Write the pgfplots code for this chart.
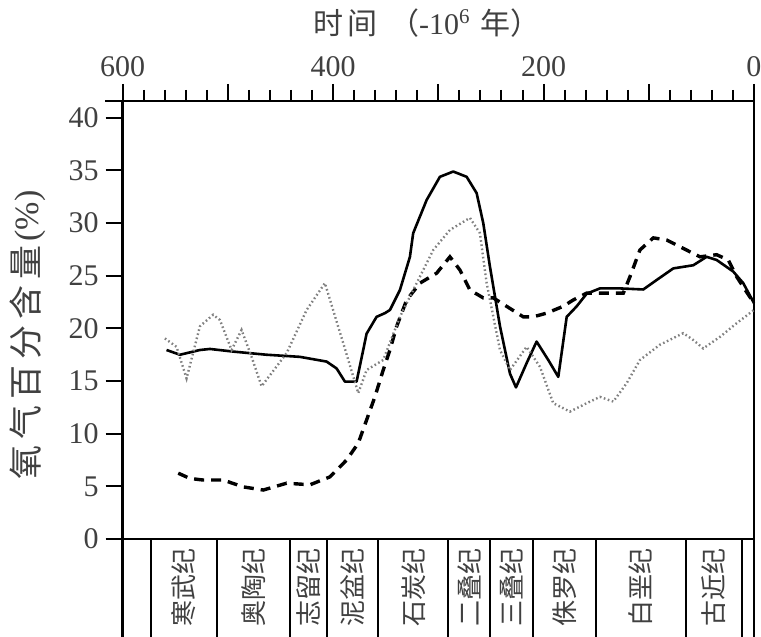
\documentclass[border=0pt]{standalone}
\usepackage{fontspec}
\setmainfont{Liberation Serif}
\newfontfamily\cjk{Noto Sans CJK SC}
\usepackage{pgfplots}
\pgfplotsset{compat=1.18}

% oxygen content (%) against time (Ma)
\pgfplotstableread{
ma val
558.3 17.95
545.6 17.5
526.6 17.95
517.1 18.05
495.0 17.8
463.2 17.5
431.6 17.3
406.2 16.85
396.7 16.2
388.8 14.95
377.7 14.95
371.4 17.95
368.2 19.5
358.7 21.1
350.8 21.45
346.0 21.75
336.5 23.65
327.0 26.8
323.9 29.05
311.1 32.2
298.5 34.4
285.8 34.9
273.1 34.4
263.6 32.85
257.3 30.0
251.0 25.9
241.4 20.2
231.9 15.7
226.2 14.4
216.1 16.7
206.6 18.75
195.5 17.0
186.0 15.4
178.0 21.1
168.5 22.1
159.0 23.3
146.4 23.8
127.4 23.8
105.2 23.7
92.5 24.6
76.7 25.7
57.7 26.0
45.0 26.8
35.5 26.5
19.7 25.4
10.2 24.3
0.0 22.4
}\solid

\pgfplotstableread{
ma val
547.2 6.25
536.1 5.75
523.5 5.6
504.5 5.6
485.5 4.95
466.4 4.65
444.2 5.3
422.0 5.15
403.0 5.9
387.2 7.5
376.1 9.1
368.2 11.3
360.3 13.5
352.4 16.05
346.0 17.95
339.6 20.2
330.1 22.7
317.5 24.3
301.6 25.25
289.0 26.8
279.5 25.55
270.0 23.65
257.3 22.9
247.8 22.9
235.1 22.1
219.3 21.1
209.8 21.1
197.1 21.45
181.3 22.1
171.8 22.7
159.0 23.35
124.2 23.35
117.9 24.9
108.4 27.45
95.7 28.6
83.0 28.4
67.2 27.6
51.3 26.8
35.5 27.0
24.4 26.5
16.4 24.9
8.6 23.7
0.0 22.4
}\dashed

\pgfplotstableread{
ma val
559.9 19.05
548.8 18.25
539.3 15.25
526.6 20.2
514.0 21.3
507.6 20.8
496.5 17.95
487.0 19.85
477.5 17.3
468.0 14.5
444.2 17.65
425.2 21.75
407.8 24.3
390.4 18.6
376.1 13.85
368.2 16.05
352.4 17.0
336.5 21.1
320.6 24.3
304.8 27.45
289.0 29.35
270.0 30.5
260.5 29.05
254.1 24.3
241.4 17.95
231.9 16.05
216.1 18.25
203.4 16.35
190.8 12.9
174.9 12.1
159.0 12.9
146.4 13.5
133.7 13.05
121.0 14.8
108.4 17.0
89.4 18.45
67.2 19.55
57.7 18.9
48.2 18.1
32.3 19.2
16.4 20.5
0.0 21.75
}\dotted

\begin{document}
\begin{tikzpicture}
\begin{axis}[
  scale only axis,
  width=315.65pt, height=219pt,
  xmin=0, xmax=600, x dir=reverse,
  ymin=0, ymax=41.6,
  clip=false,
  axis line style={line width=1.2pt},
  xtick={0,100,...,600},
  xticklabels={0,,200,,400,,600},
  minor x tick num=4,
  xtick pos=upper, xticklabel pos=upper,
  ytick={0,5,...,40}, ytick pos=left,
  tick align=outside,
  major tick length=8.5pt, minor tick length=5.5pt,
  tick style={line width=1pt, black},
  ticklabel style={font=\fontsize{15}{15}\selectfont, text=black!75},
  /pgf/number format/assume math mode=true,
  title={{\cjk 时\kern2pt 间}\hspace{6pt}{\cjk （}-10\textsuperscript{6}\hspace{5pt}{\cjk 年）}},
  title style={at={(rel axis cs:0.482,1.1735)}, anchor=center, yshift=-5pt,
    font=\fontsize{15}{15}\selectfont, text=black!75},
  ylabel={{\cjk 氧\kern3pt 气\kern3pt 百\kern3pt 分\kern3pt 含\kern3pt 量}\kern2pt(\%)},
  ylabel style={at={(rel axis cs:-0.15,0.466)}, anchor=center, rotate=0,
    font=\fontsize{17}{17}\selectfont, text=black!75},
]
\addplot[black, line width=1.3pt, line join=round] table[x=ma, y=val] {\solid};
\addplot[black, line width=1.7pt, dash pattern=on 5pt off 3.5pt] table[x=ma, y=val] {\dashed};
\addplot[black!50, line width=1.2pt, dash pattern=on 0.8pt off 1.3pt] table[x=ma, y=val] {\dotted};

% frame extension and period table below the axis
\draw[line width=1.2pt] (rel axis cs:0,1) -- ++(-9pt,0);
\draw[line width=1.2pt] (axis cs:600,0) -- (axis cs:600,-10);
\draw[line width=1.2pt] (axis cs:0,0) -- (axis cs:0,-10);
\pgfplotsinvokeforeach{573.5,510.7,441,406.2,357.1,290.6,251,209.8,150.2,64.6,11.7}{
  \draw[line width=1pt] (axis cs:#1,0) -- (axis cs:#1,-10);
}
\begin{scope}[every node/.style={rotate=90, font=\cjk\fontsize{13}{13}\selectfont, text=black!75}]
\node at (axis cs:542.1,-4.56) {寒武纪};
\node at (axis cs:475.9,-4.56) {奥陶纪};
\node at (axis cs:423.6,-4.56) {志留纪};
\node at (axis cs:381.7,-4.56) {泥盆纪};
\node at (axis cs:323.9,-4.56) {石炭纪};
\node at (axis cs:270.8,-4.56) {二叠纪};
\node at (axis cs:230.4,-4.56) {三叠纪};
\node at (axis cs:180.0,-4.56) {侏罗纪};
\node at (axis cs:107.4,-4.56) {白垩纪};
\node at (axis cs:38.2,-4.56) {古近纪};
\end{scope}
\end{axis}
\pgfresetboundingbox
\useasboundingbox (-61.35pt,-49pt) rectangle (319.15pt,269.5pt);
\end{tikzpicture}
\end{document}
